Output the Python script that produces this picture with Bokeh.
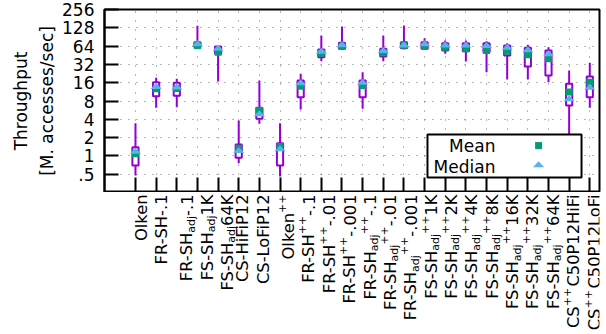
import re
import numpy as np
from bokeh.plotting import figure
from bokeh.layouts import column
from bokeh.models import (FixedTicker, CustomJSTickFormatter, Label, BoxAnnotation,
                          ColumnDataSource, Range1d, Title)
from bokeh.core.properties import value, field
from bokeh.embed import file_html
from bokeh.resources import INLINE

# ---------------- data ----------------
labels = ["Olken", "FR-SH-.1", "FR-SH_{adj}-.1", "FS-SH_{adj}1K", "FS-SH_{adj}64K",
          "CS-HiFiP12", "CS-LoFiP12", "Olken^{++}", "FR-SH^{++}-.1", "FR-SH^{++}-.01",
          "FR-SH^{++}-.001", "FR-SH_{adj}^{++}-.1", "FR-SH_{adj}^{++}-.01",
          "FR-SH_{adj}^{++}-.001", "FS-SH_{adj}^{++}1K", "FS-SH_{adj}^{++}2K",
          "FS-SH_{adj}^{++}4K", "FS-SH_{adj}^{++}8K", "FS-SH_{adj}^{++}16K",
          "FS-SH_{adj}^{++}32K", "FS-SH_{adj}^{++}64K", "CS^{++}C50P12HiFi",
          "CS^{++}C50P12LoFi"]
whisker_low = [0.476, 6.2, 6.3, 60, 16.7, 0.76, 3.37, 0.46, 5.8, 36.1, 56, 5.96, 36.1,
               57, 57, 47.8, 35.7, 23.8, 18, 18, 16.3, 1.23, 6.2]
q1 = [0.695, 9.6, 9.8, 61.4, 47.8, 0.93, 4.08, 0.695, 9.24, 42, 57.8, 9.24, 43.2,
      59, 57.8, 54.2, 52.8, 50.8, 44.8, 29.5, 21, 6.75, 9.24]
q3 = [1.39, 16.3, 16.0, 74, 63, 1.54, 6.2, 1.62, 17.4, 56.3, 72.5, 17.4, 57.8,
      74, 74, 71.4, 71.4, 71.4, 65.5, 60, 54.2, 15.4, 20.2]
whisker_high = [3.45, 19.3, 18.5, 138, 64, 3.82, 17.4, 3.45, 22.4, 95.6, 134.5, 23.8, 95.6,
                139.7, 86.3, 79, 79, 77, 71.4, 67.2, 61.4, 25.4, 34]
mean = [1.08, 12.7, 12.9, 65.5, 50.8, 1.34, 5.58, 1.43, 14.0, 48.9, 63.5, 14.4, 49.7,
        66, 63.8, 61.4, 57.8, 54.2, 52.8, 46, 39.6, 11.2, 16.3]
median = [1.19, 13.8, 13.6, 70, 59, 1.23, 4.93, 1.31, 15.9, 52.8, 67.2, 16.3, 54.2,
          67, 69.8, 67, 67, 65.5, 61.4, 55.6, 47.8, 8.7, 13.5]
y_ticks = [0.5, 1, 2, 4, 8, 16, 32, 64, 128, 256]
y_title = ["Throughput", "[M. accesses/sec]"]
legend_names = ["Mean", "Median"]

# ---------------- styles ----------------
FONT = "DejaVu Sans"
PURPLE = "#9400D3"
GREEN = "#009E73"
BLUE = "#56B4E9"
FS = 16.3
SS = 11.0
X0, X1 = -1.5, 22.47
Y0, Y1 = 0.25, 256
FRAME_W = 495.0
MAIN_H = 192
LAB_H = 334 - MAIN_H

n = len(labels)
xs = list(range(n))

p = figure(width=606, height=MAIN_H, y_axis_type="log", output_backend="svg",
           toolbar_location=None, x_range=Range1d(X0, X1), y_range=Range1d(Y0, Y1),
           min_border_left=104, min_border_right=7, min_border_top=9, min_border_bottom=0)
p.background_fill_color = "white"
p.border_fill_color = "white"
p.outline_line_color = "black"
p.outline_line_width = 2

# y axis
yt = FixedTicker(ticks=y_ticks)
p.yaxis.ticker = yt
p.ygrid.ticker = yt
p.yaxis.formatter = CustomJSTickFormatter(code="return tick < 0.75 ? '.5' : tick.toFixed(0);")
p.yaxis.major_tick_in = 14
p.yaxis.major_tick_out = 0
p.yaxis.minor_tick_line_color = None
p.yaxis.major_tick_line_width = 2
p.yaxis.axis_line_width = 2
p.yaxis.major_label_standoff = 10
p.yaxis.major_label_text_font = FONT
p.yaxis.major_label_text_font_size = "17px"
p.yaxis.major_label_text_color = "black"

# x axis (ticks only, labels are drawn below)
xt = FixedTicker(ticks=xs)
p.xaxis.ticker = xt
p.xgrid.ticker = xt
p.xaxis.formatter = CustomJSTickFormatter(code="return '';")
p.xaxis.major_label_text_font_size = "0px"
p.xaxis.major_label_standoff = 0
p.xaxis.major_tick_in = 15
p.xaxis.major_tick_out = 0
p.xaxis.minor_tick_line_color = None
p.xaxis.major_tick_line_width = 2
p.xaxis.axis_line_width = 2

p.ygrid.grid_line_color = "#707070"
p.ygrid.grid_line_dash = "1 7"
p.ygrid.grid_line_width = 1
p.xgrid.grid_line_color = "#707070"
p.xgrid.grid_line_dash = "1 8"
p.xgrid.grid_line_width = 1

# y axis title as two left titles
p.add_layout(Title(text=y_title[1], align="center", text_font=FONT, text_font_size="17px",
                   text_font_style="normal", text_color="black", standoff=6), "left")
p.add_layout(Title(text=y_title[0], align="center", text_font=FONT, text_font_size="17px",
                   text_font_style="normal", text_color="black", standoff=2), "left")

# ---------------- boxes ----------------
src = ColumnDataSource(dict(x=xs, lo=whisker_low, q1=q1, q3=q3, hi=whisker_high,
                            mean=mean, median=median))
p.segment(x0="x", y0="lo", x1="x", y1="hi", source=src, line_color=PURPLE, line_width=2)
p.vbar(x="x", width=0.3, bottom="q1", top="q3", source=src, fill_color="white",
       line_color=PURPLE, line_width=2)
p.scatter(x="x", y="mean", source=src, marker="square", size=7, fill_color=GREEN,
          line_color=None)

PXD = 183.0 / 10.0  # pixels per doubling
hw = 0.27
down = 2.0 ** (-2.5 / PXD)
up = 2.0 ** (3.5 / PXD)
tri_x = [[x - hw, x + hw, x] for x in xs]
tri_y = [[m * down, m * down, m * up] for m in median]
p.patches(tri_x, tri_y, fill_color=BLUE, line_color=None)

# ---------------- legend (text left, key right) ----------------
box = BoxAnnotation(left=14.14, right=21.6, top=2.25, bottom=0.441, fill_color="white",
                    fill_alpha=1.0, line_color="black", line_width=2, line_alpha=1.0)
p.add_layout(box)
p.add_layout(Label(x=17.43, y=1.48, text=legend_names[0], text_align="right",
                   text_baseline="middle", text_font=FONT, text_font_size="17px",
                   text_color="black"))
p.add_layout(Label(x=17.43, y=0.652, text=legend_names[1], text_align="right",
                   text_baseline="middle", text_font=FONT, text_font_size="17px",
                   text_color="black"))
lg1 = p.scatter([19.52], [1.48], marker="square", size=7, fill_color=GREEN, line_color=None)
lg1.level = "overlay"
lt = 0.714
lg2 = p.patches([[19.52 - hw, 19.52 + hw, 19.52]], [[lt * down, lt * down, lt * up]],
                fill_color=BLUE, line_color=None)
lg2.level = "overlay"

# ---------------- rotated category labels (second figure below) ----------------
W = {'F': 1178, 'R': 1423, '-': 739, 'S': 1300, 'H': 1540, 'a': 1255, 'd': 1300,
     'j': 569, '+': 1716, '.': 651, 'K': 1343, 'O': 1612, 'l': 569, 'k': 1186,
     'e': 1260, 'n': 1298, 'C': 1430, 'i': 569, 'P': 1235, 'L': 1141, 'o': 1253}
for dgt in "0123456789":
    W[dgt] = 1303


def text_width(t, size):
    return sum(W.get(c, 1250) for c in t) / 2048.0 * size


def parse(lab):
    segs = []
    for part in re.split(r"(_\{[^}]*\}|\^\{[^}]*\})", lab):
        if not part:
            continue
        if part.startswith("_{"):
            segs.append(("sub", part[2:-1]))
        elif part.startswith("^{"):
            segs.append(("sup", part[2:-1]))
        else:
            segs.append(("n", part))
    return segs


seg_x, seg_y, seg_t, seg_s, seg_o = [], [], [], [], []
for i, lab in enumerate(labels):
    segs = parse(lab)
    scripted = any(k != "n" for k, _ in segs)
    base = 11.0 if scripted else 6.0
    pos = 2.0
    for kind, txt in reversed(segs):
        size = FS if kind == "n" else SS
        shift = 0.0 if kind == "n" else (4.5 if kind == "sub" else -6.5)
        seg_x.append(i)
        seg_y.append(pos)
        seg_t.append(txt)
        seg_s.append(f"{size}px")
        seg_o.append(base + shift)
        pos += text_width(txt, size)

upp = (X1 - X0) / FRAME_W
p2 = figure(width=606, height=LAB_H, output_backend="svg", toolbar_location=None,
            x_range=Range1d(X0, X0 + (606 - 104) * upp), y_range=Range1d(LAB_H, 0),
            min_border_left=104, min_border_right=0, min_border_top=0, min_border_bottom=0)
p2.axis.visible = False
p2.grid.visible = False
p2.outline_line_color = None
p2.background_fill_color = "white"
p2.border_fill_color = "white"
lsrc = ColumnDataSource(dict(x=seg_x, y=seg_y, text=seg_t, size=seg_s, xoff=seg_o))
p2.text(x="x", y="y", text="text", source=lsrc, angle=np.pi / 2, text_align="right",
        text_baseline="alphabetic", text_font=value(FONT), text_font_size=field("size"),
        x_offset=field("xoff"), text_color="black")

layout = column(p, p2, spacing=0)
open("out.html", "w").write(file_html(layout, INLINE))
